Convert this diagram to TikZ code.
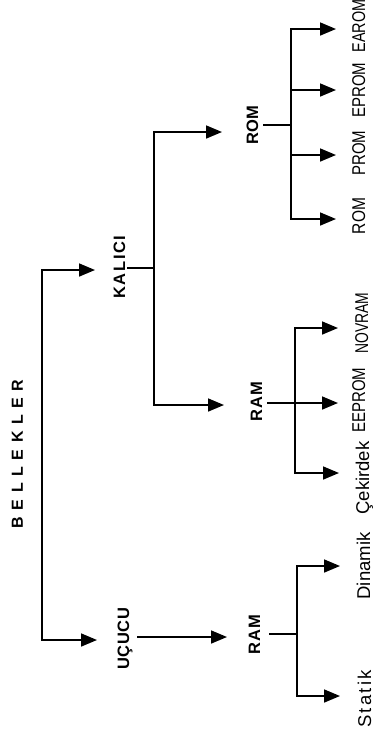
\documentclass[tikz,border=0pt]{standalone}
\usepackage{fontspec}
\setmainfont{Liberation Sans}
\usepackage{graphicx}
\usetikzlibrary{arrows.meta}
\newcommand\LS{\hspace{6.6pt}}
\begin{document}
\begin{tikzpicture}[x=1pt,y=-1pt,
  ln/.style={line width=1.7pt, line join=miter},
  arr/.style={ln, -{Triangle[length=16pt,width=13pt]}},
  darr/.style={ln, {Triangle[length=16pt,width=13pt]}-{Triangle[length=16pt,width=13pt]}},
  head/.style={rotate=90, anchor=base, inner sep=0pt, font=\bfseries\fontsize{16.5}{18}\selectfont},
  leaf/.style={rotate=90, anchor=base, inner sep=0pt, font=\fontsize{18.5}{20}\selectfont}]
\fill[white] (0,0) rectangle (374,729);
\useasboundingbox (0,0) rectangle (374,729);

% headings
\node[head, font=\bfseries\fontsize{16}{18}\selectfont] (bel) at (23,454) {B\LS E\LS L\LS L\LS E\LS K\LS L\LS E\LS R};
\node[head] (kal) at (125,267) {K\kern1.6pt A\kern1.6pt L\kern1.6pt I\kern1.6pt C\kern1.6pt I};
\node[head] (ucu) at (129,639) {U\kern0.6pt Ç\kern0.6pt U\kern0.6pt C\kern0.6pt U};
\node[head] (rom) at (258,125) {ROM};
\node[head] (ram1) at (262,402) {R\kern1pt A\kern1pt M};
\node[head] (ram2) at (260,635) {R\kern1pt A\kern1pt M};

% leaves
\node[leaf] (earom) at (365,26) {\scalebox{0.78}[1]{EAROM}};
\node[leaf] (eprom) at (365,90) {\scalebox{0.81}[1]{EPROM}};
\node[leaf] (prom) at (365,153) {\scalebox{0.81}[1]{PROM}};
\node[leaf] (romleaf) at (365,216) {\scalebox{0.84}[1]{ROM}};
\node[leaf] (novram) at (368,323) {\scalebox{0.75}[1]{NOVRAM}};
\node[leaf] (eeprom) at (365,400) {\scalebox{0.81}[1]{EEPROM}};
\node[leaf] (cek) at (369,478) {Çekirdek};
\node[leaf] (din) at (370,566) {Dinamik};
\node[leaf] (sta) at (371,699) {S\kern2.2pt t\kern2.2pt a\kern2.2pt t\kern2.2pt i\kern2.2pt k};

% coordinates
\coordinate (m1) at (42,270);
\coordinate (m2) at (42,640);
\coordinate (kt) at (95,270);
\coordinate (ut) at (97,640);

\coordinate (ks) at (127,268);
\coordinate (kj) at (154,268);
\coordinate (k1) at (154,132);
\coordinate (k2) at (154,405);
\coordinate (k1t) at (222,132);
\coordinate (k2t) at (224,405);

\coordinate (us) at (137,637);
\coordinate (ust) at (227,637);

\coordinate (rs) at (263,125);
\coordinate (rj) at (291,125);
\coordinate (r1) at (291,29);
\coordinate (r2) at (291,90);
\coordinate (r3) at (291,155);
\coordinate (r4) at (291,219);
\coordinate (r1t) at (336,29);
\coordinate (r2t) at (336,90);
\coordinate (r3t) at (336,155);
\coordinate (r4t) at (336,219);

\coordinate (a1s) at (267,403);
\coordinate (a1t) at (338,403);
\coordinate (a1) at (295,328);
\coordinate (a3) at (295,473);
\coordinate (a1e) at (338,328);
\coordinate (a3e) at (339,473);

\coordinate (b1s) at (269,634);
\coordinate (bj) at (297,634);
\coordinate (b1) at (297,566);
\coordinate (b2) at (297,696);
\coordinate (b1e) at (340,566);
\coordinate (b2e) at (340,696);

% connectors
\draw[darr] (kt) -- (m1) -- (m2) -- (ut);

\draw[ln] (ks) -- (kj);
\draw[darr] (k1t) -- (k1) -- (k2) -- (k2t);

\draw[arr] (us) -- (ust);

\draw[ln] (rs) -- (rj);
\draw[darr] (r1t) -- (r1) -- (r4) -- (r4t);
\draw[arr] (r2) -- (r2t);
\draw[arr] (r3) -- (r3t);

\draw[arr] (a1s) -- (a1t);
\draw[darr] (a1e) -- (a1) -- (a3) -- (a3e);

\draw[ln] (b1s) -- (bj);
\draw[darr] (b1e) -- (b1) -- (b2) -- (b2e);
\end{tikzpicture}
\end{document}
